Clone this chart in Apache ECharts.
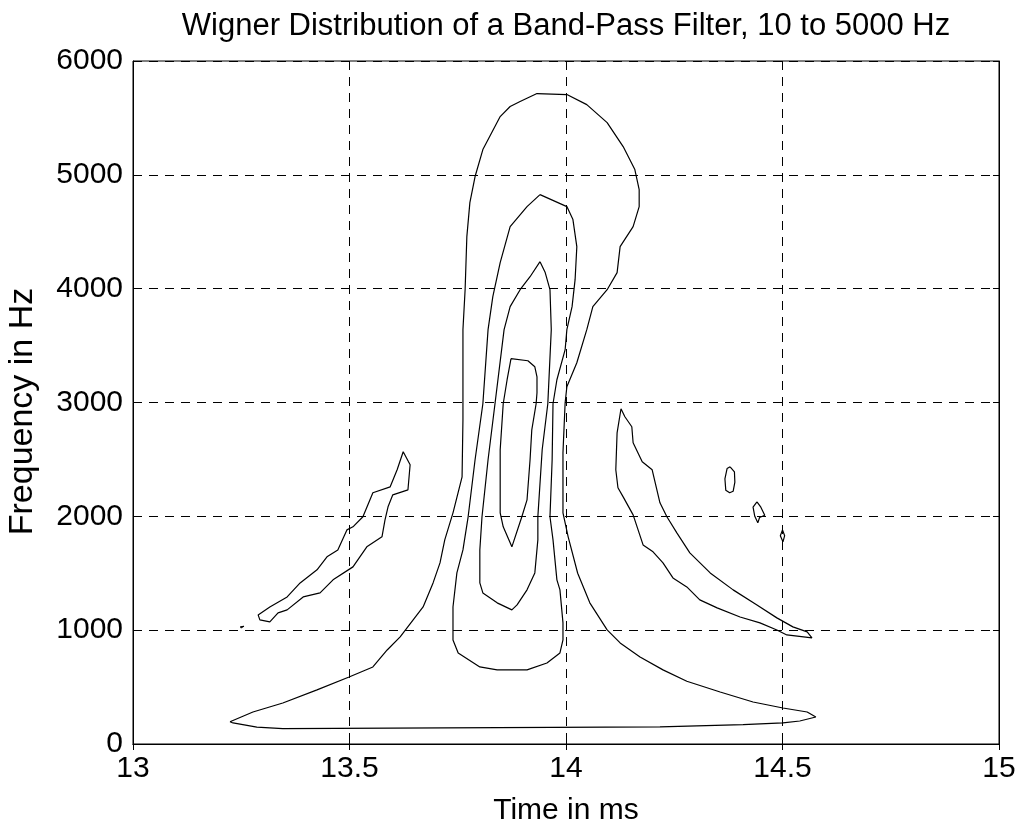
<!DOCTYPE html>
<html>
<head>
<meta charset="utf-8">
<title>Wigner Distribution</title>
<script src="https://cdn.jsdelivr.net/npm/echarts@6/dist/echarts.min.js"></script>
<style>
  html, body { margin: 0; padding: 0; background: #fff; }
  #chart { width: 1021px; height: 825px; }
</style>
</head>
<body>
<div id="chart"></div>
<script>
// tick values
const timeTicks = [13, 13.5, 14, 14.5, 15];
const freqTicks = [0, 1000, 2000, 3000, 4000, 5000, 6000];

// contour lines, [time ms, frequency Hz]
const outerContour = [
  [13.224, 196], [13.277, 281], [13.346, 360], [13.425, 475], [13.499, 589],
  [13.554, 677], [13.587, 826], [13.617, 941], [13.647, 1090], [13.670, 1204],
  [13.693, 1415], [13.709, 1591], [13.720, 1793], [13.739, 2031], [13.760, 2347],
  [13.762, 2848], [13.762, 3640], [13.767, 3991], [13.771, 4457], [13.778, 4756],
  [13.790, 4985], [13.808, 5222], [13.848, 5512], [13.871, 5600], [13.894, 5644],
  [13.933, 5714], [14.002, 5705], [14.048, 5617], [14.095, 5459], [14.132, 5248],
  [14.159, 5046], [14.169, 4870], [14.169, 4721], [14.155, 4545], [14.125, 4369],
  [14.118, 4141], [14.095, 3991], [14.062, 3842], [14.048, 3640], [14.025, 3349],
  [14.002, 3138], [13.998, 2998], [13.993, 2558], [13.993, 2031], [14.005, 1820],
  [14.027, 1500], [14.055, 1240], [14.095, 1002], [14.125, 888], [14.171, 765],
  [14.224, 651], [14.279, 551], [14.356, 457], [14.432, 369], [14.501, 316],
  [14.557, 281], [14.577, 237], [14.540, 202], [14.501, 185], [14.409, 170],
  [14.217, 150], [13.346, 135], [13.286, 149], [13.231, 185], [13.224, 196]
];
const secondContour = [
  [13.940, 4826], [13.910, 4721], [13.871, 4545], [13.848, 4229], [13.831, 3930],
  [13.820, 3640], [13.808, 2989], [13.790, 2497], [13.774, 1996], [13.762, 1705],
  [13.748, 1503], [13.739, 1204], [13.739, 914], [13.751, 800], [13.801, 677],
  [13.841, 651], [13.910, 651], [13.956, 712], [13.986, 800], [13.993, 914],
  [13.993, 1064], [13.986, 1354], [13.979, 1442], [13.970, 1793], [13.963, 1996],
  [13.968, 2497], [13.970, 2989], [13.979, 3200], [13.998, 3464], [14.002, 3640],
  [14.014, 3842], [14.021, 4079], [14.025, 4369], [14.016, 4607], [14.002, 4721],
  [13.940, 4826]
];
const thirdContour = [
  [13.940, 4237], [13.917, 4105], [13.894, 3991], [13.871, 3842], [13.857, 3640],
  [13.836, 2989], [13.820, 2497], [13.806, 1996], [13.801, 1705], [13.801, 1415],
  [13.808, 1327], [13.841, 1240], [13.875, 1178], [13.887, 1222], [13.910, 1354],
  [13.928, 1503], [13.935, 1793], [13.935, 1996], [13.945, 2585], [13.958, 2989],
  [13.966, 3640], [13.963, 3991], [13.952, 4141], [13.940, 4237]
];
const innerContour = [
  [13.873, 3385], [13.912, 3367], [13.928, 3314], [13.933, 3226], [13.933, 3086],
  [13.931, 2989], [13.921, 2760], [13.917, 2497], [13.910, 2145], [13.898, 1996],
  [13.875, 1732], [13.855, 1908], [13.848, 2031], [13.848, 2585], [13.855, 2989],
  [13.864, 3200], [13.873, 3385]
];
const leftLobe = [
  [13.624, 2567], [13.640, 2453], [13.635, 2233], [13.600, 2189], [13.589, 2084],
  [13.582, 1969], [13.575, 1820], [13.540, 1732], [13.508, 1556], [13.462, 1442],
  [13.432, 1327], [13.393, 1292], [13.356, 1178], [13.335, 1152], [13.316, 1073],
  [13.293, 1090], [13.289, 1134], [13.316, 1204], [13.356, 1292], [13.386, 1415],
  [13.425, 1530], [13.448, 1644], [13.473, 1705], [13.494, 1881], [13.508, 1908],
  [13.531, 1996], [13.554, 2207], [13.594, 2259], [13.610, 2409], [13.624, 2567]
];
const leftDot = [[13.250, 1020], [13.256, 1034], [13.252, 1040], [13.248, 1030], [13.250, 1020]];
const rightLobe = [
  [14.127, 2945], [14.118, 2734], [14.115, 2409], [14.120, 2251], [14.132, 2171],
  [14.155, 2013], [14.178, 1749], [14.201, 1688], [14.224, 1591], [14.247, 1459],
  [14.279, 1380], [14.309, 1266], [14.349, 1196], [14.402, 1116], [14.448, 1064],
  [14.487, 1002], [14.510, 958], [14.568, 932], [14.557, 985], [14.524, 1029],
  [14.487, 1108], [14.441, 1222], [14.386, 1354], [14.333, 1503], [14.286, 1679],
  [14.256, 1855], [14.233, 1996], [14.217, 2119], [14.199, 2409], [14.176, 2479],
  [14.155, 2646], [14.152, 2787], [14.136, 2875], [14.127, 2945]
];
const blobA = [
  [14.379, 2435], [14.389, 2390], [14.390, 2300], [14.386, 2220], [14.378, 2207],
  [14.369, 2230], [14.367, 2330], [14.372, 2420], [14.379, 2435]
];
const blobB = [
  [14.441, 2127], [14.450, 2080], [14.459, 2010], [14.447, 1990], [14.443, 1943],
  [14.436, 2000], [14.432, 2080], [14.441, 2127]
];
const blobC = [[14.500, 1881], [14.505, 1830], [14.501, 1776], [14.495, 1830], [14.500, 1881]];

const contours = [
  outerContour, secondContour, thirdContour, innerContour,
  leftLobe, leftDot, rightLobe, blobA, blobB, blobC
];

const font = '"Liberation Sans", Arial, sans-serif';
const chart = echarts.init(document.getElementById("chart"));

const gridLine = {
  show: true,
  lineStyle: { color: "#000", width: 1, type: [9, 7] },
};

chart.setOption({
  backgroundColor: "#fff",
  animation: false,
  textStyle: { fontFamily: font, color: "#000" },
  title: {
    text: "Wigner Distribution of a Band-Pass Filter, 10 to 5000 Hz",
    left: 566,
    top: 11,
    padding: 0,
    textAlign: "center",
    textStyle: { fontSize: 31, fontWeight: "normal", color: "#000", fontFamily: font },
  },
  grid: {
    left: 133,
    right: 22,
    top: 61,
    bottom: 81,
    outerBoundsMode: "none",
    containLabel: false,
    show: true,
    borderColor: "#000",
    borderWidth: 1,
  },
  xAxis: [
    {
      type: "value",
      min: timeTicks[0],
      max: timeTicks[timeTicks.length - 1],
      interval: 0.5,
      name: "Time in ms",
      nameLocation: "middle",
      nameGap: 52,
      nameTextStyle: { fontSize: 30, color: "#000", fontFamily: font },
      axisLine: { show: true, onZero: false, lineStyle: { color: "#000", width: 1 } },
      axisTick: { show: true, inside: true, length: 6, lineStyle: { color: "#000" } },
      axisLabel: { fontSize: 30, color: "#000", margin: 10, fontFamily: font },
      splitLine: gridLine,
    },
    {
      type: "value",
      position: "top",
      min: timeTicks[0],
      max: timeTicks[timeTicks.length - 1],
      interval: 0.5,
      axisLine: { show: true, lineStyle: { color: "#000", width: 1 } },
      axisTick: { show: true, inside: true, length: 6, lineStyle: { color: "#000" } },
      axisLabel: { show: false },
      splitLine: { show: false },
    },
  ],
  yAxis: [
    {
      type: "value",
      min: freqTicks[0],
      max: freqTicks[freqTicks.length - 1],
      interval: 1000,
      name: "Frequency in Hz",
      nameLocation: "middle",
      nameGap: 93,
      nameTextStyle: { fontSize: 34, color: "#000", fontFamily: font, padding: [0, 18, 0, 0] },
      axisLine: { show: true, onZero: false, lineStyle: { color: "#000", width: 1 } },
      axisTick: { show: true, inside: true, length: 6, lineStyle: { color: "#000" } },
      axisLabel: {
        fontSize: 30,
        color: "#000",
        margin: 10,
        fontFamily: font,
        formatter: (v) => String(v),
      },
      splitLine: gridLine,
    },
    {
      type: "value",
      position: "right",
      min: freqTicks[0],
      max: freqTicks[freqTicks.length - 1],
      interval: 1000,
      axisLine: { show: true, lineStyle: { color: "#000", width: 1 } },
      axisTick: { show: true, inside: true, length: 6, lineStyle: { color: "#000" } },
      axisLabel: { show: false },
      splitLine: { show: false },
    },
  ],
  series: contours.map((points) => ({
    type: "line",
    xAxisIndex: 0,
    yAxisIndex: 0,
    data: points,
    showSymbol: false,
    symbol: "none",
    smooth: false,
    silent: true,
    lineStyle: { color: "#000", width: 1.2 },
  })),
});
</script>
</body>
</html>
